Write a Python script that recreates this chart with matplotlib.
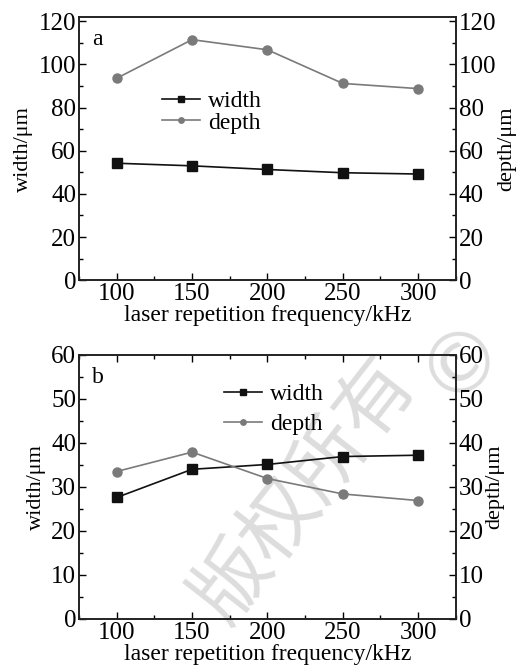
import matplotlib
matplotlib.use("Agg")
import matplotlib.pyplot as plt
from matplotlib.ticker import MultipleLocator

plt.rcParams['font.family'] = ['Liberation Serif', 'DejaVu Serif']
plt.rcParams['mathtext.fontset'] = 'stix'

freq = [100, 150, 200, 250, 300]
width_a = [54.2, 53.0, 51.3, 49.8, 49.2]
depth_a = [93.6, 111.5, 106.8, 91.2, 88.8]
width_b = [27.6, 34.0, 35.1, 36.9, 37.2]
depth_b = [33.5, 37.9, 31.9, 28.4, 26.9]

xlabel = "laser repetition frequency/kHz"
ylabel_l = "width/μm"
ylabel_r = "depth/μm"

FS_TICK = 18
FS = 17
FS_Y = 16
BLACK = "#111111"
GRAY = "#7a7a7a"

fig = plt.figure(figsize=(5.18, 6.67), dpi=100)

# watermark (behind the plots)
fig.text(0.59, 0.265, "版权所有", fontsize=56, color="#dddddd", rotation=52,
         ha="center", va="center", family=["Noto Sans CJK SC"], zorder=-5)
fig.text(0.89, 0.46, "©", fontsize=60, color="#dddddd", rotation=40,
         ha="center", va="center", family=["DejaVu Sans"], zorder=-5)


def panel(rect, w, d, ytop, ymaj, ymin, letter, top_ticks, leg_xy, leg_space):
    ax = fig.add_axes(rect)
    ax.patch.set_alpha(0)
    ax2 = ax.twinx()
    ax2.patch.set_alpha(0)
    l1, = ax.plot(freq, w, color=BLACK, lw=1.2, marker="s", ms=6.5,
                  mfc=BLACK, mec=BLACK, label="width", zorder=3)
    l2, = ax2.plot(freq, d, color=GRAY, lw=1.2, marker="o", ms=6.5,
                   mfc=GRAY, mec=GRAY, label="depth", zorder=3)
    for a in (ax, ax2):
        a.set_xlim(75, 325)
        a.set_ylim(0, ytop)
        a.yaxis.set_major_locator(MultipleLocator(ymaj))
        a.yaxis.set_minor_locator(MultipleLocator(ymin))
        for s in a.spines.values():
            s.set_linewidth(1.2)
            s.set_color("#222222")
    ax.xaxis.set_major_locator(MultipleLocator(50))
    ax.xaxis.set_minor_locator(MultipleLocator(25))
    ax.set_xticks([100, 150, 200, 250, 300])
    ax.tick_params(axis="both", which="both", direction="in",
                   labelsize=FS_TICK, top=top_ticks, width=1.0, pad=2)
    ax.tick_params(which="major", length=5)
    ax.tick_params(which="minor", length=3)
    ax2.tick_params(axis="y", which="both", direction="in",
                    labelsize=FS_TICK, width=1.0, pad=2)
    ax2.tick_params(which="major", length=5)
    ax2.tick_params(which="minor", length=3)
    ax.set_xlabel(xlabel, fontsize=FS, labelpad=0)
    ax.set_ylabel(ylabel_l, fontsize=FS_Y, labelpad=4)
    ax2.set_ylabel(ylabel_r, fontsize=FS_Y, labelpad=1)
    ax.text(0.035, 0.955, letter, transform=ax.transAxes, fontsize=FS,
            ha="left", va="top")
    ax2.legend([l1, l2], ["width", "depth"], loc="upper left",
               bbox_to_anchor=leg_xy, frameon=False, fontsize=FS,
               handlelength=1.6, handletextpad=0.35, markerscale=0.6,
               labelspacing=leg_space, borderpad=0, borderaxespad=0)
    return ax, ax2


panel([0.1525, 0.580, 0.7275, 0.3945], width_a, depth_a, 122, 20, 10,
      "a", False, (0.22, 0.72), 0.0)
panel([0.1525, 0.072, 0.7275, 0.396], width_b, depth_b, 60, 10, 5,
      "b", True, (0.385, 0.89), 0.35)

fig.savefig("out.png", dpi=100)
